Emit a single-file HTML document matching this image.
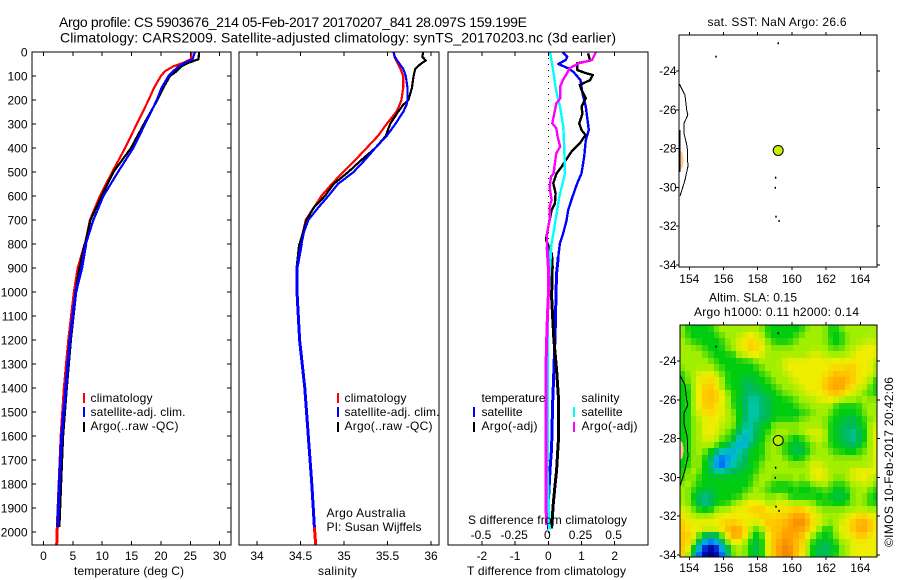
<!DOCTYPE html>
<html lang="en">
<head>
<meta charset="utf-8">
<title>Argo profile CS 5903676_214</title>
<style>
html,body{margin:0;padding:0;background:#fff;}
svg{display:block;font-family:"Liberation Sans",Arial,sans-serif;font-size:12px;fill:#000;}
text{fill:#000;stroke:none;}
</style>
</head>
<body>
<svg id="chart" xmlns="http://www.w3.org/2000/svg" width="900" height="580" viewBox="0 0 900 580">
  <defs>
    <clipPath id="clip-temp"><rect x="32" y="52" width="199" height="493"/></clipPath>
    <clipPath id="clip-sal"><rect x="239.5" y="52" width="200" height="493"/></clipPath>
    <clipPath id="clip-diff"><rect x="448.5" y="52" width="200" height="493"/></clipPath>
    <clipPath id="clip-sst"><rect x="679.5" y="35.5" width="198" height="232"/></clipPath>
    <clipPath id="clip-sla"><rect x="680" y="325.5" width="197.5" height="232"/></clipPath>
  </defs>

  <text x="59" y="27" font-size="14" textLength="468" lengthAdjust="spacing">Argo profile: CS 5903676_214 05-Feb-2017 20170207_841 28.097S 159.199E</text>
  <text x="60" y="42.5" font-size="14" textLength="556" lengthAdjust="spacing">Climatology: CARS2009. Satellite-adjusted climatology: synTS_20170203.nc (3d earlier)</text>

  <g id="map-sla-cells" clip-path="url(#clip-sla)"></g>
  <g id="map-sst" clip-path="url(#clip-sst)"></g>
  <g id="map-sla" clip-path="url(#clip-sla)"></g>
  <g id="lines-temp" clip-path="url(#clip-temp)"></g>
  <g id="lines-sal" clip-path="url(#clip-sal)"></g>
  <g id="lines-diff" clip-path="url(#clip-diff)"></g>
  <g id="axes" fill="none" stroke="#000" stroke-width="1" shape-rendering="crispEdges"></g>
  <g id="labels"></g>

  <text x="74" y="575" textLength="110" lengthAdjust="spacing">temperature (deg C)</text>
  <text x="318" y="575" textLength="39" lengthAdjust="spacing">salinity</text>
  <text x="467" y="575" textLength="159" lengthAdjust="spacing">T difference from climatology</text>
  <text x="468" y="524" textLength="159" lengthAdjust="spacing">S difference from climatology</text>

  <g shape-rendering="crispEdges">
    <rect x="83" y="393" width="2" height="10" style="fill:#f00"/>
    <rect x="83" y="407" width="2" height="10" style="fill:#00f"/>
    <rect x="83" y="422" width="2" height="10" style="fill:#000"/>
    <text x="90.5" y="402" textLength="62" lengthAdjust="spacing">climatology</text>
    <text x="90.5" y="416" textLength="95" lengthAdjust="spacing">satellite-adj. clim.</text>
    <text x="90.5" y="430" textLength="88" lengthAdjust="spacing">Argo(..raw -QC)</text>
  </g>
  <g shape-rendering="crispEdges">
    <rect x="337" y="393" width="2" height="10" style="fill:#f00"/>
    <rect x="337" y="407" width="2" height="10" style="fill:#00f"/>
    <rect x="337" y="422" width="2" height="10" style="fill:#000"/>
    <text x="344.5" y="402" textLength="62" lengthAdjust="spacing">climatology</text>
    <text x="344.5" y="416" textLength="95" lengthAdjust="spacing">satellite-adj. clim.</text>
    <text x="344.5" y="430" textLength="88" lengthAdjust="spacing">Argo(..raw -QC)</text>
  </g>
  <g shape-rendering="crispEdges">
    <text x="481.5" y="402" textLength="64" lengthAdjust="spacing">temperature</text>
    <rect x="473" y="407" width="2" height="10" style="fill:#00f"/>
    <rect x="473" y="422" width="2" height="10" style="fill:#000"/>
    <text x="481.5" y="416" textLength="41" lengthAdjust="spacing">satellite</text>
    <text x="481.5" y="430" textLength="56" lengthAdjust="spacing">Argo(-adj)</text>
    <text x="581.5" y="402" textLength="38" lengthAdjust="spacing">salinity</text>
    <rect x="573" y="407" width="2" height="10" style="fill:#0ff"/>
    <rect x="573" y="422" width="2" height="10" style="fill:#f0f"/>
    <text x="581.5" y="416" textLength="41" lengthAdjust="spacing">satellite</text>
    <text x="581.5" y="430" textLength="56" lengthAdjust="spacing">Argo(-adj)</text>
  </g>

  <text x="326.5" y="517" textLength="79" lengthAdjust="spacing">Argo Australia</text>
  <text x="326.5" y="531" textLength="95" lengthAdjust="spacing">PI: Susan Wijffels</text>

  <text x="707.5" y="26" textLength="139" lengthAdjust="spacing">sat. SST: NaN Argo: 26.6</text>
  <text x="709" y="301.5" textLength="88" lengthAdjust="spacing">Altim. SLA: 0.15</text>
  <text x="694" y="316" textLength="165" lengthAdjust="spacing">Argo h1000: 0.11 h2000: 0.14</text>
  <text transform="translate(893,547) rotate(-90)" textLength="170" lengthAdjust="spacing">©IMOS 10-Feb-2017 20:42:06</text>
</svg>

<script>
// ---------- axis ticks ----------
const depthTicks = [0,100,200,300,400,500,600,700,800,900,1000,1100,1200,1300,1400,1500,1600,1700,1800,1900,2000];
const tempTicks = [0,5,10,15,20,25,30];
const salTicks = [34,34.5,35,35.5,36];
const salTickLabels = ['34','34.5','35','35.5','36'];
const tDiffTicks = [-2,-1,0,1,2];
const sDiffTicks = [-0.5,-0.25,0,0.25,0.5];
const sDiffTickLabels = ['-0.5','-0.25','0','0.25','0.5'];
const lonTicks = [154,156,158,160,162,164];
const latTicks = [-24,-26,-28,-30,-32,-34];

// ---------- temperature profiles (deg C) ----------
const tempDepth = [0,30,45,60,80,100,150,200,300,400,500,600,700,800,900,1000,1200,1400,1600,1800,1980,2054];
const tempClimatology = [25.2,25.1,23.8,22.1,20.7,20,18.8,17.9,15.9,13.9,11.7,9.6,7.9,7.07,5.9,5.25,4.3,3.55,3,2.65,2.35,2.25];
const tempArgo = [26.5,26.4,24.7,23.5,22.7,21.55,20.4,19.4,17.1,14.9,11.9,9.9,8,7.07,6.2,5.5,4.6,3.9,3.27,2.93,2.64];
const tempSatellite = [25.8,25.4,24.1,23,22.1,21.3,20.1,19.3,17.3,15.3,12.7,10.2,8.5,7.2,6.5,5.5,4.5,3.8,3.1,2.7,2.4];

// ---------- salinity profiles ----------
const salDepth = [0,20,35,50,70,100,150,200,220,250,300,350,400,450,500,550,600,650,700,750,800,900,1000,1200,1400,1600,1800,1980,2054];
const salClimatology = [35.57,35.58,35.6,35.62,35.65,35.68,35.68,35.66,35.64,35.6,35.49,35.39,35.26,35.13,34.99,34.86,34.74,34.65,34.56,34.53,34.49,34.46,34.46,34.49,34.55,34.59,34.63,34.66,34.675];
const salArgo = [35.91,35.9,35.94,35.88,35.82,35.8,35.78,35.74,35.68,35.62,35.53,35.48,35.36,35.2,35.05,34.88,34.78,34.65,34.57,34.53,34.49,34.46,34.46,34.49,34.55,34.59,34.63,34.66];
const salSatellite = [35.57,35.585,35.61,35.64,35.68,35.71,35.73,35.73,35.72,35.68,35.59,35.49,35.36,35.24,35.11,34.93,34.82,34.7,34.59,34.54,34.51,34.46,34.46,34.49,34.55,34.59,34.63,34.66];

// ---------- difference profiles ----------
const dTempSatDepth = [0,19,33,50,68,82,117,172,228,325,367,436,506,547,603,658,700,756,797,853,922,1019,1100,1200,1325,1467,1650,1742,1881,1990];
const dTempSat = [0.43,0.57,0.53,0.30,0.60,0.75,0.97,1.03,1.13,1.22,1.13,1.08,1.0,0.87,0.73,0.60,0.55,0.45,0.35,0.30,0.25,0.23,0.22,0.2,0.17,0.13,0.1,0.05,0,0];
const dTempArgoDepth = [6,36,47,75,89,96,117,137,158,193,228,256,297,325,346,381,415,450,478,506,547,589,631,658,728,783,839,894,1019,1100,1200,1325,1450,1603,1742,1811,1881,1985];
const dTempArgo = [1.2,1.26,0.87,0.87,1.15,1.34,1.26,0.95,1,1.13,1,1.03,0.93,1,1.12,0.95,0.7,0.53,0.4,0.25,0.15,0.22,0.2,0.1,0,-0.07,0.1,0.12,0.1,0.13,0.17,0.25,0.31,0.31,0.25,0.2,0.15,0.1];
const dSalSatDepth = [0,89,158,228,311,394,506,547,603,672,742,811,922,1019,1100,1325,1450,1742,1990];
const dSalSat = [0.013,0.04,0.058,0.088,0.113,0.12,0.126,0.108,0.083,0.063,0.043,0.02,0.008,0,-0.007,-0.005,-0.005,-0.008,0.008];
const dSalArgoDepth = [0,33,47,68,89,117,144,193,214,256,297,318,353,394,422,464,506,519,561,617,644,700,756,811,894,1019,1150,1325,1450,1600,1750,1870,1970];
const dSalArgo = [0.36,0.33,0.23,0.16,0.14,0.11,0.09,0.09,0.06,0.045,0.03,0.06,0.07,0.09,0.06,0.05,0.04,0.02,0.01,0.025,0.01,0.01,-0.01,-0.01,0,0,-0.01,-0.018,-0.018,-0.016,-0.018,-0.018,-0.013];

// ---------- map features (degrees) ----------
const coastLon = [153.42,153.75,153.85,153.91,153.69,153.69,153.88,153.92,153.75,153.46];
const coastLat = [-24.67,-25.24,-26.0,-26.27,-26.7,-27.21,-27.9,-28.93,-29.62,-30.44];
const landLon = [153.4,153.6,153.68,153.6,153.4];
const landLat = [-28.05,-28.2,-28.6,-29.0,-29.15];
const shoreLon = [153.46,153.46,153.46];
const shoreLat = [-27.05,-28.1,-29.2];
const islandLon = [159.2,155.56,159.05,159.03,159.07,159.25];
const islandLat = [-22.57,-23.26,-29.5,-30.02,-31.51,-31.73];
const floatLon = 159.199;
const floatLat = -28.097;

// ---------- sea level anomaly, colour level per 1/3 degree cell ----------
const slaGridLon0 = 153.42;
const slaGridLat0 = -22.16;
const slaGrid = [
[6,5,5,5,5,5,6,6,6,6,6,6,6,6,6,5,5,5,5,5,5,5,6,6,6,6,5,5,6,6,6,6,6,6,6],
[6,5,5,5,5,5,5,6,6,6,6,7,7,7,6,5,5,5,5,5,5,6,6,6,6,6,5,5,5,6,6,6,6,6,6],
[6,6,5,5,5,5,5,5,6,6,7,7,8,7,7,6,5,5,5,5,6,6,6,6,6,6,5,5,5,6,6,6,6,7,6],
[6,6,6,6,5,5,5,5,6,6,7,7,8,8,7,6,6,6,6,6,6,6,6,6,6,6,6,5,6,6,6,7,7,7,7],
[6,6,6,6,6,5,5,5,5,5,6,7,7,7,7,6,6,6,6,6,6,6,6,7,7,6,6,6,6,6,7,7,7,7,7],
[6,6,6,6,6,6,5,5,5,5,5,5,5,6,6,6,6,6,7,7,7,7,7,7,7,7,7,7,7,7,7,7,7,7,6],
[6,6,6,6,6,6,6,5,5,5,5,5,5,5,6,6,6,6,7,7,7,7,7,7,7,7,7,8,7,8,8,7,7,7,6],
[5,6,6,7,7,7,6,6,5,5,5,5,5,5,5,6,6,6,6,7,7,7,7,7,7,7,8,8,8,8,8,7,7,7,6],
[5,6,6,7,7,8,7,6,5,5,5,4,4,5,5,5,6,6,6,6,7,7,7,7,7,8,8,9,9,8,8,7,7,6,5],
[5,5,6,7,8,8,7,6,5,5,5,4,4,4,5,5,5,6,6,6,6,7,7,7,7,8,9,9,9,8,7,7,6,6,5],
[5,5,6,7,8,8,8,7,6,5,5,4,4,4,4,5,5,5,6,6,6,6,7,7,7,7,8,8,8,7,7,6,6,5,5],
[5,5,6,7,8,8,8,7,6,5,5,4,3,3,4,4,5,5,5,5,6,6,6,6,7,7,7,7,6,6,6,6,6,6,6],
[5,5,6,7,8,8,7,7,6,5,5,4,3,3,4,4,5,5,5,5,5,6,6,6,6,6,6,5,5,5,5,5,6,6,6],
[5,5,6,7,7,8,7,7,6,6,5,4,3,3,4,4,5,5,5,5,5,5,5,6,6,6,6,5,5,5,5,5,6,6,6],
[5,5,6,6,7,7,7,7,6,6,5,4,3,3,4,4,5,5,5,5,5,6,6,6,6,6,5,5,5,4,4,5,5,6,6],
[5,5,6,6,7,7,7,6,6,6,5,3,3,4,5,5,6,6,6,6,6,6,6,6,6,6,5,5,4,4,4,5,5,6,7],
[5,5,6,6,7,7,7,6,6,5,4,3,3,4,5,5,6,6,6,6,6,6,7,7,7,6,5,5,4,4,3,4,5,6,7],
[5,5,6,6,7,7,6,6,5,5,3,2,3,4,5,6,6,6,6,5,5,5,6,6,7,6,5,5,4,4,3,4,5,6,7],
[5,5,6,6,6,6,6,5,5,3,2,2,4,5,5,6,6,6,5,5,4,5,5,6,6,6,5,5,5,4,4,5,5,6,7],
[5,5,6,6,6,5,4,3,2,2,3,4,5,5,5,6,6,6,5,5,4,4,5,6,6,6,6,5,5,5,5,5,6,6,7],
[5,5,6,6,5,4,2,1,2,3,3,4,5,5,5,6,6,6,6,5,5,5,6,6,6,6,6,6,6,6,6,6,6,6,7],
[5,5,6,6,5,4,1,1,2,3,4,4,5,5,6,6,6,6,6,6,6,6,6,7,7,6,6,6,6,6,6,6,6,6,7],
[5,6,6,6,5,4,3,3,4,4,4,5,5,5,6,6,6,6,6,6,6,6,6,7,7,7,6,6,6,6,7,7,7,7,7],
[5,6,6,5,5,5,5,5,5,5,5,5,5,6,6,6,6,6,6,6,6,6,6,7,7,7,6,6,6,6,7,7,7,7,6],
[6,6,6,5,5,5,5,5,5,5,5,5,5,6,6,6,5,5,5,5,6,5,5,6,6,6,6,5,5,6,6,6,7,6,6],
[6,6,5,5,5,4,5,5,5,5,5,5,6,6,6,5,5,5,5,5,5,5,5,5,5,6,5,5,5,5,6,6,6,6,5],
[6,6,5,4,3,4,5,5,5,5,5,6,6,6,6,6,6,6,6,5,5,5,5,5,5,5,5,4,4,5,6,6,6,5,5],
[6,6,5,4,3,4,5,5,5,6,6,7,7,7,7,6,6,7,7,6,6,6,6,6,5,5,5,5,5,5,6,6,6,5,5],
[7,6,6,5,5,5,6,6,6,7,7,7,8,8,8,7,7,7,7,8,8,8,7,7,6,6,6,6,6,6,6,6,6,6,6],
[7,7,6,6,6,6,7,7,7,7,7,7,7,7,8,8,7,8,8,8,9,9,8,7,7,6,6,6,6,7,7,8,8,7,7],
[8,7,7,7,7,7,7,7,8,8,7,7,7,7,7,8,8,8,8,9,10,10,9,7,7,6,6,6,7,7,8,8,9,8,7],
[8,7,7,7,7,7,7,8,8,9,9,8,6,5,6,8,8,8,9,9,9,9,8,7,6,5,5,6,7,7,8,9,9,8,7],
[8,8,7,6,4,4,4,5,8,9,9,7,6,5,5,7,8,8,9,9,9,8,7,6,5,5,5,6,7,7,7,8,8,7,7],
[8,8,6,4,2,1,2,4,6,7,7,6,5,4,5,7,8,9,10,9,8,8,6,5,5,4,5,5,6,6,7,7,7,7,7],
[8,7,5,2,0,0,0,2,4,6,6,6,5,4,5,7,8,9,10,10,8,8,6,5,4,4,4,5,6,6,7,7,7,7,7],
[8,6,4,1,0,0,0,1,4,6,6,6,5,4,5,7,8,9,10,10,8,7,6,5,4,4,5,5,6,6,7,7,7,7,7]
];
const slaPalette = [[0,0,144],[0,64,255],[0,160,240],[0,200,176],[0,184,96],[0,204,16],[160,238,0],[240,238,0],[255,196,0],[255,160,0],[238,136,0]];

// ---------- axis functions ----------
function yDepth(d){ return 52 + 0.24 * d; }
function xTemp(t){ return 43.5 + 5.87 * t; }
function xSal(s){ return 257 + 87 * (s - 34); }
function xDT(v){ return 548.3 + 33.2 * v; }
function xDS(v){ return 548.3 + 132.6 * v; }
function xLon(lon){ return 689.3 + 17.1 * (lon - 154); }
function ySst(lat){ return 71 + 19.4 * (-24 - lat); }
function ySla(lat){ return 361 + 19.4 * (-24 - lat); }

const NS = 'http://www.w3.org/2000/svg';
function node(tag, parentId, props){
  const el = document.createElementNS(NS, tag);
  for (const k in props) el.setAttribute(k, props[k]);
  document.getElementById(parentId).appendChild(el);
  return el;
}

function profile(parentId, name, values, depths, xFn, color, width, deepWidth){
  const all = values.map(function(v, i){ return xFn(v).toFixed(1) + ',' + yDepth(depths[i]).toFixed(1); });
  const el = node('polyline', parentId, {points: all.join(' '), fill: 'none', stroke: color, 'stroke-width': width, 'shape-rendering': 'crispEdges', 'stroke-linejoin': 'round'});
  
  
  // the steep deep part of each profile is drawn wider, as in the source plot
  const deep = all.filter(function(p, i){ return depths[i] >= 800; });
  const deepEl = node('polyline', parentId, {points: deep.join(' '), fill: 'none', stroke: color, 'stroke-width': deepWidth, 'shape-rendering': 'crispEdges'});
  
  
}

// ---------- profile lines ----------
profile('lines-temp', 'temperature-climatology-line', tempClimatology, tempDepth, xTemp, '#f00', 2.2, 3);
profile('lines-temp', 'temperature-argo-line', tempArgo, tempDepth, xTemp, '#000', 2.2, 3);
profile('lines-temp', 'temperature-satellite-line', tempSatellite, tempDepth, xTemp, '#00f', 2.2, 3);
profile('lines-sal', 'salinity-climatology-line', salClimatology, salDepth, xSal, '#f00', 2.2, 3);
profile('lines-sal', 'salinity-argo-line', salArgo, salDepth, xSal, '#000', 2.2, 3);
profile('lines-sal', 'salinity-satellite-line', salSatellite, salDepth, xSal, '#00f', 2.2, 3);

const zeroLine = node('line', 'lines-diff', {x1: xDT(0), x2: xDT(0), y1: 52, y2: 545, stroke: '#000', 'stroke-width': 1, 'stroke-dasharray': '1 5', 'shape-rendering': 'crispEdges'});


profile('lines-diff', 't-difference-satellite-line', dTempSat, dTempSatDepth, xDT, '#00f', 2.4, 3);
profile('lines-diff', 't-difference-argo-line', dTempArgo, dTempArgoDepth, xDT, '#000', 2.4, 3);
profile('lines-diff', 's-difference-satellite-line', dSalSat, dSalSatDepth, xDS, '#0ff', 2.4, 3);
profile('lines-diff', 's-difference-argo-line', dSalArgo, dSalArgoDepth, xDS, '#f0f', 2.4, 3);

// ---------- SLA heatmap ----------
function levelAt(r, c){
  const rr = Math.max(0, Math.min(slaGrid.length - 1, r));
  const row = slaGrid[rr];
  return row[Math.max(0, Math.min(row.length - 1, c))];
}
function softLevel(r, c){
  return (2 * levelAt(r, c) + levelAt(r - 1, c) + levelAt(r + 1, c) + levelAt(r, c - 1) + levelAt(r, c + 1)) / 6;
}
function levelColor(v){
  const i = Math.min(slaPalette.length - 2, Math.floor(v));
  const t = v - i;
  const a = slaPalette[i];
  const b = slaPalette[i + 1];
  return 'rgb(' + [0, 1, 2].map(function(k){ return Math.round(a[k] + (b[k] - a[k]) * t); }).join(',') + ')';
}
slaGrid.forEach(function(row, r){
  row.forEach(function(level, c){
    const x0 = xLon(slaGridLon0 + c / 3);
    const y0 = ySla(slaGridLat0 - r / 3);
    const x1 = xLon(slaGridLon0 + (c + 1) / 3);
    const y1 = ySla(slaGridLat0 - (r + 1) / 3);
    const cell = node('rect', 'map-sla-cells', {x: Math.round(x0), y: Math.round(y0), width: Math.round(x1) - Math.round(x0), height: Math.round(y1) - Math.round(y0), fill: levelColor(softLevel(r, c)), 'shape-rendering': 'crispEdges'});
    
    
  });
});

// ---------- map overlays ----------
function mapFeatures(parentId, yFn, prefix, floatFill){
  const landPts = landLon.map(function(v, i){ return xLon(v).toFixed(1) + ',' + yFn(landLat[i]).toFixed(1); }).join(' ');
  const land = node('polygon', parentId, {points: landPts, fill: '#ffc890', stroke: 'none', 'shape-rendering': 'crispEdges'});
  
  

  const shorePts = shoreLon.map(function(v, i){ return xLon(v).toFixed(1) + ',' + yFn(shoreLat[i]).toFixed(1); }).join(' ');
  const shore = node('polyline', parentId, {points: shorePts, fill: 'none', stroke: '#000', 'stroke-width': 1, 'shape-rendering': 'crispEdges'});
  
  

  const coastPts = coastLon.map(function(v, i){ return xLon(v).toFixed(1) + ',' + yFn(coastLat[i]).toFixed(1); }).join(' ');
  const coast = node('polyline', parentId, {points: coastPts, fill: 'none', stroke: '#000', 'stroke-width': 1, 'shape-rendering': 'crispEdges'});
  
  

  islandLon.forEach(function(v, i){
    const isle = node('ellipse', parentId, {cx: xLon(v), cy: yFn(islandLat[i]), rx: 0.8, ry: 1.2, fill: '#000'});
    
    
  });

  const marker = node('circle', parentId, {cx: xLon(floatLon), cy: yFn(floatLat), r: 5, fill: floatFill, stroke: '#000', 'stroke-width': 1});
  
  
}
mapFeatures('map-sst', ySst, 'sst', '#c8f000');
mapFeatures('map-sla', ySla, 'sla', '#b4f000');

// ---------- frames and ticks ----------
function box(name, x, y, w, h){
  const el = node('rect', 'axes', {x: x, y: y, width: w, height: h});
  
  
}
function tick(x1, y1, x2, y2){
  const el = node('line', 'axes', {x1: x1, y1: y1, x2: x2, y2: y2});
  
  
}
function label(str, x, y, anchor){
  const el = node('text', 'labels', {x: x, y: y, 'text-anchor': anchor});
  el.textContent = str;
  
  
}

box('temperature-panel-frame', 32, 52, 199, 493);
box('salinity-panel-frame', 239, 52, 200, 493);
box('difference-panel-frame', 448, 52, 200, 493);
box('sst-map-frame', 679, 35, 198, 232);
box('sla-map-frame', 680, 325, 197, 232);

depthTicks.forEach(function(d){
  const y = yDepth(d);
  tick(32, y, 36, y);
  tick(227, y, 231, y);
  label(String(d), 27.5, y + 4.5, 'end');
});
tempTicks.forEach(function(t){
  const x = xTemp(t);
  tick(x, 52, x, 56);
  tick(x, 541, x, 545);
  label(String(t), x, 560, 'middle');
});
salTicks.forEach(function(s, i){
  const x = xSal(s);
  tick(x, 52, x, 56);
  tick(x, 541, x, 545);
  label(salTickLabels[i], x, 560, 'middle');
});
tDiffTicks.forEach(function(v){
  const x = xDT(v);
  tick(x, 52, x, 56);
  tick(x, 541, x, 545);
  label(String(v), x, 560, 'middle');
});
sDiffTicks.forEach(function(v, i){
  label(sDiffTickLabels[i], xDS(v) - 1, 539, 'middle');
});
lonTicks.forEach(function(lon){
  const x = xLon(lon);
  tick(x, 32, x, 35);
  tick(x, 267, x, 270);
  tick(x, 322, x, 325);
  tick(x, 557, x, 560);
  label(String(lon), x, 283, 'middle');
  label(String(lon), x, 572, 'middle');
});
latTicks.forEach(function(lat){
  const y1 = ySst(lat);
  const y2 = ySla(lat);
  tick(676, y1, 679, y1);
  tick(877, y1, 880, y1);
  tick(677, y2, 680, y2);
  tick(877, y2, 880, y2);
  label(String(lat), 676.5, y1 + 4, 'end');
  label(String(lat), 676.5, y2 + 4, 'end');
});
</script>
</body>
</html>
